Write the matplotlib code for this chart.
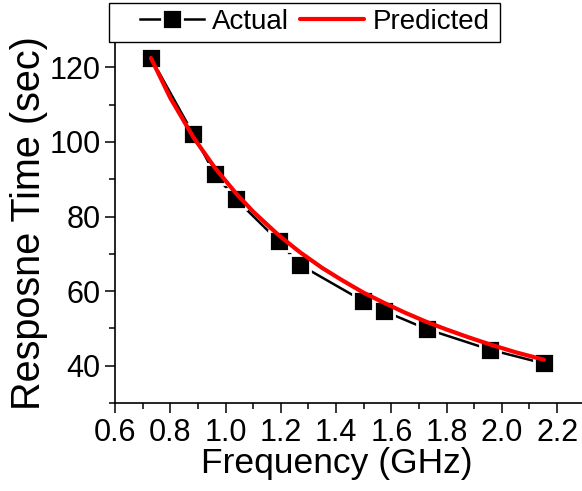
import matplotlib
matplotlib.use("Agg")
import matplotlib.pyplot as plt
from matplotlib.patches import Rectangle
from matplotlib.legend_handler import HandlerTuple
from matplotlib.ticker import MultipleLocator

plt.rcParams['font.family'] = ['Liberation Sans', 'DejaVu Sans']

freq = [0.73, 0.884, 0.961, 1.038, 1.192, 1.268, 1.499, 1.575, 1.729, 1.957, 2.152]
actual = [122.5, 102.0, 91.4, 84.6, 73.4, 67.1, 57.3, 54.6, 49.8, 44.3, 40.6]
pred_x = [0.73, 0.80, 0.884, 0.961, 1.038, 1.10, 1.192, 1.268, 1.35, 1.42, 1.499, 1.575,
          1.65, 1.729, 1.80, 1.88, 1.957, 2.05, 2.152]
predicted = [122.5, 111.8, 101.2, 93.1, 86.2, 81.3, 75.0, 70.5, 66.2, 63.0, 59.6, 56.8,
             54.2, 51.7, 49.7, 47.6, 45.7, 43.6, 41.6]

fig = plt.figure(figsize=(5.82, 4.91), dpi=100)
ax = fig.add_axes([115/582, 88/491, 1 - 115/582, (403-30)/491])

l_act, = ax.plot(freq, actual, color='black', lw=1.8, zorder=2)
m_act, = ax.plot(freq, actual, ls='none', marker='s', ms=15, mfc='black',
                 mec='white', mew=2, zorder=3)
l_pred, = ax.plot(pred_x, predicted, color='#ff0000', lw=3, zorder=4,
                  solid_capstyle='round')

ax.set_xlim(0.6, 2.29)
ax.set_ylim(30, 130)
ax.xaxis.set_minor_locator(MultipleLocator(0.1))
ax.yaxis.set_minor_locator(MultipleLocator(10))
ax.set_xticks([0.6, 0.8, 1.0, 1.2, 1.4, 1.6, 1.8, 2.0, 2.2])
ax.set_xticklabels(['0.6', '0.8', '1.0', '1.2', '1.4', '1.6', '1.8', '2.0', '2.2'])
ax.set_yticks([40, 60, 80, 100, 120])
ax.tick_params(which='major', direction='out', length=7.5, width=1.1, labelsize=22, pad=3)
ax.tick_params(which='minor', direction='out', length=4.3, width=1.1)
ax.spines['top'].set_visible(False)
ax.spines['right'].set_visible(False)
for s in ('left', 'bottom'):
    ax.spines[s].set_linewidth(1.2)

fig.text(337/582, 1 - 464/491, 'Frequency (GHz)', fontsize=25.5, ha='center', va='center')
fig.text(29/582, 1 - 223/491, 'Resposne Time (sec)', fontsize=28.5, ha='center', va='center',
         rotation=90)

leg = fig.legend([(l_act, m_act), l_pred], ['Actual', 'Predicted'],
                 handler_map={tuple: HandlerTuple(ndivide=1)},
                 loc='center left', bbox_to_anchor=(140/582, 1 - 22/491),
                 ncol=2, frameon=False, fontsize=20, handlelength=2.3,
                 handletextpad=0.3, columnspacing=0.4, borderpad=0, borderaxespad=0)
fig.add_artist(Rectangle((109/582, 1 - 42/491), (500-109)/582, 39/491,
                         transform=fig.transFigure, fill=True, facecolor='white',
                         edgecolor='black', lw=1, zorder=5))
leg.set_zorder(6)

fig.savefig('out.png', dpi=100)
